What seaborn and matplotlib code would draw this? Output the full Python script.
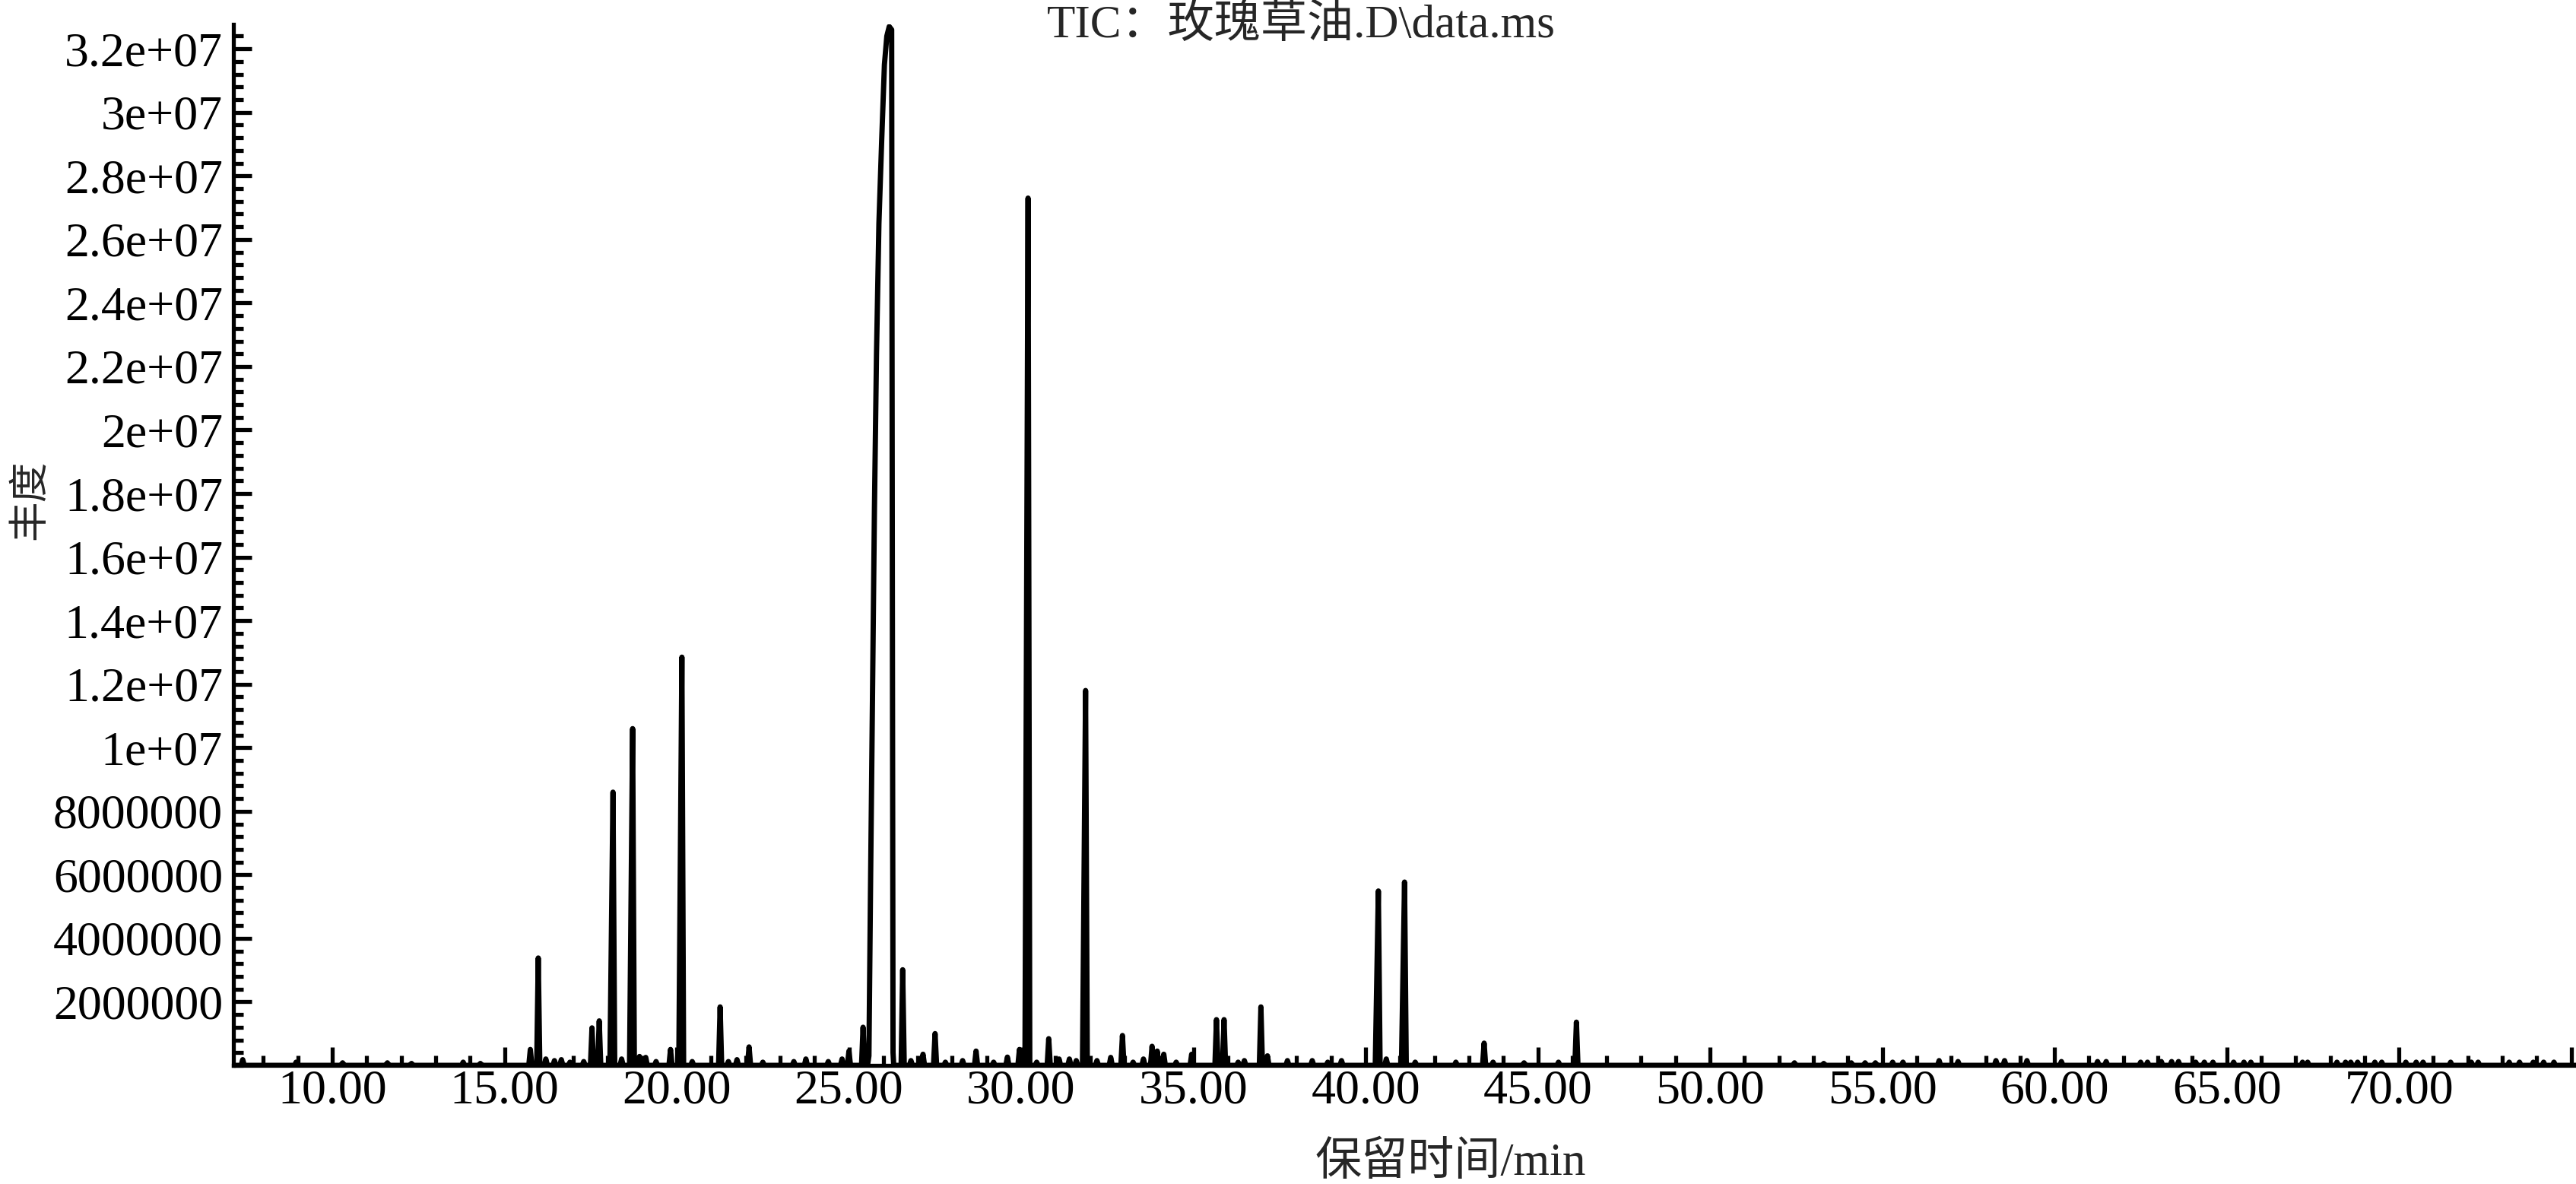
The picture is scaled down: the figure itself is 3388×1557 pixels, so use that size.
import numpy as np
import pandas as pd
import matplotlib
matplotlib.use("Agg")
import matplotlib.pyplot as plt
import seaborn as sns
from matplotlib.ticker import MultipleLocator, FixedLocator, FuncFormatter

# peaks: retention time (min) and abundance
peak_rt = [7.40, 8.95, 10.30, 11.60, 12.30, 13.80, 14.30,
           15.75, 15.98, 16.20, 16.45, 16.65, 16.90, 17.30, 17.54, 17.75,
           18.15, 18.40, 18.72, 18.92, 19.10, 19.40, 19.82, 20.15, 20.45,
           21.26, 21.50, 21.75, 22.10, 22.50, 23.40, 23.75, 24.40, 24.80,
           25.00, 25.41, 26.56, 26.80, 27.15, 27.50, 27.80, 28.30, 28.69,
           29.20, 29.60, 29.95, 30.20, 30.45, 30.80, 31.10, 31.40, 31.60,
           31.87, 32.20, 32.60, 32.94, 33.25, 33.55, 33.80, 33.95, 34.14,
           34.50, 34.95, 35.67, 35.89, 36.30, 36.48, 36.96, 37.15, 37.73,
           38.45, 38.90, 39.30, 40.37, 40.60, 41.13, 41.44, 42.62, 43.44,
           43.70, 44.60, 45.60, 46.12,
           52.45, 53.30, 54.10, 54.50, 54.80, 55.30, 55.60, 56.65, 57.20,
           58.30, 58.55, 59.20, 60.20, 61.25, 61.50, 62.50, 62.70, 63.10,
           63.40, 63.60, 64.10, 64.35, 64.60, 65.20, 65.50, 65.70, 67.20,
           67.35, 68.20, 68.45, 68.60, 68.80, 69.30, 69.50, 70.20, 70.50,
           70.70, 71.50, 72.10, 72.30, 73.20, 73.50, 73.90, 74.20, 74.50]
peak_abund = [180000, 100000, 80000, 80000, 60000, 100000, 60000,
              500000, 3380000, 200000, 150000, 180000, 100000, 120000, 1180000, 1400000,
              8600000, 200000, 10600000, 280000, 250000, 120000, 500000, 12850000, 120000,
              1840000, 120000, 180000, 580000, 100000, 120000, 200000, 120000, 200000,
              450000, 1200000, 3010000, 150000, 350000, 1000000, 100000, 150000, 450000,
              100000, 260000, 500000, 27300000, 100000, 840000, 200000, 200000, 150000,
              11800000, 150000, 250000, 940000, 100000, 200000, 600000, 450000, 350000,
              100000, 350000, 1440000, 1440000, 100000, 150000, 1840000, 300000, 150000,
              150000, 100000, 150000, 5490000, 200000, 5770000, 100000, 100000, 700000,
              100000, 80000, 100000, 1360000,
              80000, 60000, 80000, 80000, 80000, 100000, 100000, 150000, 120000,
              150000, 150000, 150000, 120000, 120000, 120000, 100000, 100000, 120000,
              120000, 120000, 100000, 100000, 100000, 100000, 100000, 100000, 100000,
              100000, 100000, 100000, 100000, 100000, 100000, 100000, 100000, 100000,
              100000, 100000, 100000, 100000, 100000, 100000, 100000, 100000, 100000]

# the dominant (fronting, overloaded) peak traced point by point
main_rt = [25.58, 25.63, 25.68, 25.74, 25.80, 25.87, 25.95, 26.03, 26.10, 26.17,
           26.24, 26.26, 26.28]
main_abund = [300000, 6000000, 11300000, 17500000, 22400000, 26500000, 29100000,
              31500000, 32400000, 32700000, 32600000, 15000000, 400000]

x_ticks = [10, 15, 20, 25, 30, 35, 40, 45, 50, 55, 60, 65, 70, 75]
y_ticks = [2e6, 4e6, 6e6, 8e6, 1e7, 1.2e7, 1.4e7, 1.6e7, 1.8e7, 2e7,
           2.2e7, 2.4e7, 2.6e7, 2.8e7, 3e7, 3.2e7]

title = "TIC：玫瑰草油.D\\data.ms"
xlabel = "保留时间/min"
ylabel = "丰度"

# build the trace: each stick peak rises from and returns to the baseline
segments = []
for t, h in zip(peak_rt, peak_abund):
    wl, wr = (0.09, 0.05) if h > 4e6 else (0.045, 0.045)
    segments.append([(t - wl, 0), (t, h), (t + wr, 0)])
segments.append([(main_rt[0] - 0.04, 0)] + list(zip(main_rt, main_abund)) + [(main_rt[-1] + 0.02, 0)])
segments.sort(key=lambda s: s[0][0])
rows = [(7.13, 0)]
for s in segments:
    rows.extend(s)
rows.append((75.14, 0))
trace = pd.DataFrame(rows, columns=["rt", "abund"])

sns.set_style("ticks")
plt.rcParams["font.family"] = ["Liberation Serif", "Noto Sans CJK SC"]

fig = plt.figure(figsize=(16.94, 7.785), dpi=200)
ax = fig.add_axes([307 / 3388, 156 / 1557, 3081 / 3388, 1369 / 1557])

sns.lineplot(data=trace, x="rt", y="abund", sort=False, estimator=None,
             color="black", linewidth=2.5, ax=ax)

ax.set_xlim(7.13, 75.14)
ax.set_ylim(0, 3.277e7)
ax.xaxis.set_major_locator(FixedLocator(x_ticks))
ax.xaxis.set_minor_locator(MultipleLocator(1))
ax.xaxis.set_major_formatter(FuncFormatter(lambda v, p: f"{v:.2f}" if v < 72 else ""))
ax.yaxis.set_major_locator(FixedLocator(y_ticks))
ax.yaxis.set_minor_locator(MultipleLocator(4e5))
ax.yaxis.set_major_formatter(FuncFormatter(lambda v, p: f"{v:.7g}"))

ax.tick_params(which="major", direction="in", length=8.8, width=1.9,
               labelsize=23, color="black", labelcolor="black")
ax.tick_params(which="minor", direction="in", length=4.7, width=1.9, color="black")
ax.tick_params(axis="y", which="major", pad=5)
ax.tick_params(axis="x", which="major", pad=2)

sns.despine(ax=ax)
for side in ["left", "bottom"]:
    ax.spines[side].set_linewidth(1.9)
    ax.spines[side].set_color("black")

ax.set_xlabel("")
ax.set_ylabel("")
fig.text(0.505, 1 - 49 / 1557, title, ha="center", va="baseline", fontsize=22)
fig.text(1908 / 3388, 12 / 1557, xlabel, ha="center", va="baseline", fontsize=22)
fig.text(41 / 3388, 1 - 657 / 1557, ylabel, ha="center", va="center",
         rotation=90, fontsize=19)

fig.savefig("out.png", dpi=200, facecolor="white")
